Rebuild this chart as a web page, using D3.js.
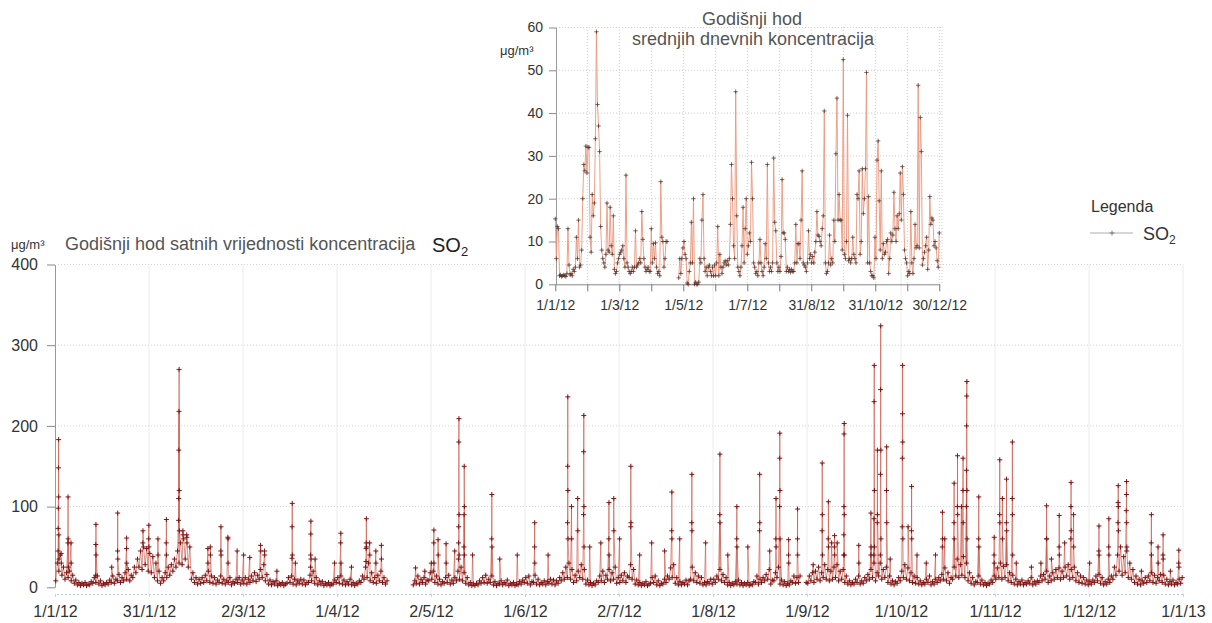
<!DOCTYPE html>
<html>
<head>
<meta charset="utf-8">
<script src="https://cdn.jsdelivr.net/npm/d3@7"></script>
<style>
body { margin: 0; background: #fff; }
text { font-family: "Liberation Sans", Arial, sans-serif; }
</style>
</head>
<body>
<svg id="chart" width="1212" height="623"></svg>
<script>
// hourly SO2 background band, one value every 12 hours (null = no data)
var baseJan = [8,30, 20,40, 15,25, 10,18, 12,20, 8,15, 5,9, 3,6, 2,5, 3,6, 2,4, 3,7, 5,12, 6,14, 4,8, 2,5, 3,6, 4,9, 6,14, 5,10, 8,16, 6,12, 8,18, 10,22, 8,15, 12,25, 18,35, 25,45, 22,50, 28,48, 20,42];
var baseFeb = [18,38, 12,30, 8,20, 5,12, 8,18, 12,25, 15,28, 20,35, 25,45, 30,55, 28,60, 35,65, 25,50, 10,18, 6,12, 4,10, 5,12, 6,15, 8,20, 6,14, 5,12, 4,9, 6,14, 5,10, 4,8, 6,12, 3,7, 5,10, 6,12];
var baseMar = [4,9, 5,12, 4,10, 6,14, 8,18, 7,15, 10,22, 12,28, 8,16, 4,9, 3,7, 4,8, 2,5, 3,6, 2,4, 5,12, 6,14, 4,10, 3,8, 5,10, 4,9, 3,6, 6,15, 8,20, 5,12, 3,8, 4,7, 2,5, 3,6, 2,4, 4,9];
var baseApr = [6,12, 5,14, 4,9, 3,7, 4,10, 3,6, 2,5, 4,8, 6,14, 10,25, 12,30, 8,18, 6,12, 5,15, 8,20, 6,12, 4,8,
  null,null, null,null, null,null, null,null, null,null, null,null, null,null, null,null,
  3,8, 5,14, 4,10, 6,12, 4,9];
var baseMay = [8,18, 10,20, 6,14, 4,10, 3,7, 5,12, 6,15, 4,9, 5,12, 8,20, 10,25, 8,18, 5,12, 3,6, 2,4, 2,5, 3,8, 5,12, 6,15, 5,10, 6,14, 3,7, 2,5, 4,8, 3,6, 4,9, 2,5, 3,6, 2,4, 3,7, 4,9];
var baseJun = [6,12, 5,14, 3,7, 6,15, 4,10, 3,6, 4,8, 3,7, 5,10, 4,9, 3,8, 5,12, 8,18, 10,25, 12,30, 10,22, 6,15, 8,20, 12,28, 10,22, 4,9, 3,6, 2,5, 3,8, 6,14, 8,20, 6,15, 10,22, 8,18, 10,25];
var baseJul = [5,12, 6,15, 8,18, 6,14, 12,28, 10,22, 4,9, 3,6, 2,5, 3,7, 2,4, 5,12, 6,14, 3,8, 2,5, 4,10, 6,14, 10,24, 12,28, 5,12, 3,7, 3,6, 4,9, 3,8, 10,25, 8,18, 6,14, 5,12, 3,6, 3,7, 5,10];
var baseAug = [4,10, 6,14, 10,22, 8,16, 6,12, 3,6, 2,5, 3,7, 4,9, 3,6, 2,5, 3,6, 2,4, 3,7, 6,14, 4,10, 6,12, 8,16, 10,22, 4,9, 8,18, 12,25, 4,9, 3,7, 2,5, 3,8, 6,14, 5,12, 6,14, null,null, null,6];
var baseSep = [5,14, 8,18, 6,20, 10,25, 8,18, 12,28, 10,22, 8,20, 10,25, 12,28, 8,20, 10,22, 6,14, 4,8, 3,6, 4,10, 6,14, 4,8, 5,12, 8,16, 10,22, 12,30, 8,18, 14,30, 10,22, 12,25, 6,14, 4,8, 3,7, 5,12];
var baseOct = [8,20, 12,28, 10,24, 8,18, 6,14, 5,12, 4,8, 3,6, 4,10, 6,14, 3,7, 4,10, 6,12, 8,16, 10,24, 8,18, 5,12, 10,25, 14,35, 12,28, 15,38, 12,30, 8,18, 5,12, 3,7, 6,14, 4,9, 3,6, 2,5, 4,9, 6,14];
var baseNov = [10,24, 12,30, 10,26, 12,28, 8,18, 6,15, 4,10, 3,7, 4,9, 3,6, 4,8, 5,12, 3,7, 4,8, 6,14, 8,16, 10,20, 6,14, 8,18, 10,22, 12,24, 10,20, 12,25, 14,28, 10,22, 12,25, 8,18, 6,14, 5,12, 4,9];
var baseDec = [3,7, 4,9, 6,14, 8,16, 5,12, 3,7, 4,10, 6,14, 10,25, 15,40, 20,50, 15,38, 18,45, 12,30, 10,22, 6,14, 4,10, 3,8, 5,12, 6,14, 8,18, 6,15, 5,12, 8,16, 6,15, 4,10, 3,7, 4,9, 3,6, 4,10, 5,12];

// hourly peaks: [start day of year, consecutive hourly values]
var hourlyPeaks = [
  [1.0, [45, 73, 98, 148, 183, 112, 65, 35]], [2.0, [42, 30]], [4.2, [55, 112, 60, 25]], [5.2, [55, 30]],
  [13.2, [15, 53, 78, 40]], [18.4, [25]], [20.3, [45, 92, 35]], [23.2, [48, 61, 30]],
  [28.5, [55, 70]], [30.4, [60, 77, 50]], [33.4, [60, 40]], [36.1, [55, 84, 40]],
  [40.1, [83, 110, 170, 218, 270, 120, 70]], [41.5, [70, 65]], [42.8, [62, 55]],
  [49.6, [48, 30]], [50.4, [50, 40]], [53.8, [45, 75, 40]], [56.1, [62, 60, 30]],
  [59.1, [45]], [61.2, [40]], [63.2, [37]], [66.7, [52, 45]], [68.0, [45, 40]], [72.0, [20]],
  [76.9, [36, 75, 104, 40]], [78.0, [30]], [82.9, [25, 40, 66, 82, 35]], [84.4, [35]],
  [90.7, [30]], [92.7, [55, 67, 30]], [96.2, [25]], [100.9, [32, 48, 55, 85, 50]],
  [102.1, [55, 40]], [104.1, [45, 30]], [105.9, [52, 35]],
  [117.0, [24]], [120.0, [20]], [122.1, [30]], [122.9, [55, 71, 30]], [124.3, [59, 40]],
  [126.9, [54, 30]], [129.7, [45]], [130.9, [35, 55, 75, 180, 209, 90, 40]],
  [132.7, [50, 90, 150, 100, 40]], [135.5, [40]], [141.7, [60, 115, 50]], [144.3, [35]],
  [150.0, [40]], [155.6, [50, 80, 30]], [160.0, [40]], [166.3, [80, 150, 236, 120, 60]],
  [167.6, [100, 60]], [169.6, [110, 70]], [171.5, [90, 168, 213, 100, 50]], [173.5, [50]],
  [177.1, [55]], [179.7, [60, 105, 40]], [181.3, [110, 70]], [183.2, [60]],
  [186.8, [75, 150, 80]], [189.7, [40]], [193.6, [55]], [197.8, [45]],
  [200.1, [70, 118, 60]], [202.7, [60]], [206.6, [80, 140, 70]], [211.1, [55]],
  [215.7, [90, 165, 80]], [218.3, [40]], [221.2, [60, 100, 50]], [224.8, [50]],
  [228.6, [70, 140, 80]], [231.9, [45]], [233.9, [60, 110, 50]],
  [235.1, [100, 160, 191, 120, 60]], [238.0, [40, 59, 30]], [240.9, [60, 97, 40]],
  [246.0, [28]], [248.9, [70, 154, 90, 40]], [250.9, [60, 106, 50]], [252.0, [55]],
  [252.9, [50, 64, 40]], [253.8, [55]], [255.9, [40, 65, 100, 190, 203, 90, 40]],
  [260.8, [52, 30]], [264.7, [40, 92, 50]], [265.7, [40, 85, 230, 275, 120, 50]],
  [266.8, [80, 170, 90]], [267.8, [40, 140, 245, 324, 170, 60]], [269.8, [120, 174, 80]],
  [271.0, [35]], [274.9, [75, 160, 215, 275, 180, 60]], [276.8, [75]],
  [277.9, [70, 125, 60]], [279.7, [40]], [282.7, [30]], [285.7, [40]],
  [287.9, [50, 93, 60]], [288.7, [60]], [291.7, [80, 129, 60]], [292.8, [100, 163, 90]],
  [294.1, [100]], [294.6, [120, 160, 80]], [295.7, [100, 145, 200, 237, 255, 120, 60]],
  [299.7, [60, 112, 50]], [304.7, [40, 62, 30]], [306.5, [90, 158, 80]], [307.4, [110, 60]],
  [308.7, [80, 134, 70]], [310.6, [110, 180, 90, 40]], [311.9, [30]], [316.8, [25]],
  [319.9, [30]], [321.7, [60, 101, 60]], [323.3, [35]], [325.8, [50, 89, 40]],
  [327.6, [55]], [329.6, [60, 100, 130, 70]], [330.5, [90, 50]], [335.7, [30]],
  [338.7, [45, 76, 40]], [341.9, [50, 85, 40]], [344.9, [80, 105, 126, 100, 70]],
  [347.6, [95, 115, 131, 80, 50]], [352.5, [20]], [355.7, [55, 90, 40]],
  [357.9, [50, 30]], [359.5, [40, 65, 35]], [361.9, [20]], [364.6, [30, 46, 25]]
];

// daily means for the inset: [day of year, value]
var dailyMean = [
  [0,15.3],[1,6],[2,13.5],[3,13],[4,2],[5,2.2],[6,1.8],[7,2],[8,2.2],[9,2],[10,1.8],[11,2.5],[12,13],[13,4.5],[14,2.2],[15,2.5],
  [16,2],[17,3.5],[18,3],[19,4],[20,11],[21,6],[22,15],[23,4],[24,4.5],[25,8],[26,20],[27,28],[28,26.5],[29,32.3],[30,26],
  [31,32],[32,32],[33,11],[34,7.5],[35,21],[36,16],[37,19],[38,34],[39,59],[40,42],[41,37],[42,31],[43,13.5],[44,8],[45,6],
  [46,5],[47,4],[48,7],[49,19],[50,8],[51,7.5],[52,18],[53,9],[54,7],[55,16],[56,3.5],[57,2.5],[58,3],[59,5],[60,6],[61,7],
  [62,7.5],[63,8],[64,9],[65,6],[66,4],[67,25.5],[68,5],[69,4],[70,3],[71,2.5],[72,3],[73,4],[74,3],[75,4],[76,12.5],[77,4],
  [78,4.5],[79,5],[80,6],[81,5],[82,17],[83,10.5],[84,6],[85,4],[86,3],[87,3.5],[88,4],[89,3],[90,3],[91,13],[92,5],[93,9.5],
  [94,6],[95,9.7],[96,4],[97,2.5],[98,3],[99,2],[100,24],[101,11],[102,10],[103,4],[104,6],[105,10],[106,10],[110,null],
  [117,1.5],[118,6],[119,2.5],[120,6],[121,8.5],[122,10],[123,7],[124,6],[125,0.3],[126,0],[127,3],[128,5],[129,14.5],[130,5],
  [131,20],[132,0],[133,0.5],[134,0],[135,0],[136,0.5],[137,6],[138,5],[139,15],[140,21],[141,6],[142,3],[143,4],[144,2],
  [145,4],[146,4.5],[147,3],[148,2],[149,4],[150,2],[151,4.5],[152,2],[153,5],[154,13.5],[155,2],[156,7],[157,4],[158,2.5],
  [159,4],[160,5],[161,5.5],[162,4.5],[163,5.5],[164,4.5],[165,6],[166,14],[167,28],[168,20],[169,9],[170,6],[171,45],[172,16],
  [173,4],[174,3],[175,2],[176,4],[177,9],[178,18],[179,5],[180,13],[181,20],[182,7],[183,9],[184,12],[185,10],[186,28.5],
  [187,20],[188,5],[189,4],[190,2.5],[191,3],[192,2],[193,5],[194,10.5],[195,5],[196,3],[197,2],[198,4],[199,9.5],[200,6],
  [201,28],[202,5],[203,3],[204,4],[205,3],[206,5],[207,29.5],[208,14.5],[209,12.5],[210,5],[211,3],[212,4],[213,3],[214,6.5],
  [215,24.5],[216,12],[217,12],[218,10.5],[219,3],[220,4],[221,3],[222,3.5],[223,2.8],[224,3.5],[225,3],[226,3],[227,5],
  [228,14],[229,5],[230,9.5],[231,9.5],[232,6],[233,15],[234,26.5],[235,5],[236,4.5],[237,4],[238,3],[239,5],[240,12.5],
  [241,6],[242,7],[243,5],[244,6.5],[245,5],[246,7.5],[247,10],[248,17],[249,11.5],[250,11.2],[251,10],[252,9],[253,13],
  [254,16],[255,40.5],[256,5],[257,2.5],[258,3],[259,5],[260,11.5],[261,4.5],[262,6],[263,5],[264,15],[265,10],[266,30.5],
  [267,43.5],[268,15],[269,21],[270,15],[271,15],[272,8],[273,52.5],[274,7],[275,6],[276,10],[277,39.5],[278,5.5],[279,6],
  [280,5],[281,6],[282,11],[283,7],[284,6],[285,5],[286,21],[287,20],[288,26.5],[289,7],[290,10],[291,27],[292,16.5],[293,20],
  [294,27],[295,49.5],[296,5],[297,20.5],[298,5],[299,3],[300,2],[301,2],[302,1.5],[303,11],[304,6],[305,29],[306,33.5],
  [307,19.5],[308,8],[309,26.5],[310,6],[311,9.5],[312,7],[313,7.5],[314,10],[315,10.5],[316,2.5],[317,6],[318,12],[319,10],
  [320,11.5],[321,21.5],[322,13],[323,10],[324,16],[325,13],[326,16.5],[327,26],[328,15],[329,27.5],[330,21],[331,8],[332,6],
  [333,5],[334,2],[335,3],[336,2.5],[337,17],[338,5],[339,2.5],[340,6],[341,14],[342,8.5],[343,9],[344,46.5],[345,8.5],
  [346,39],[347,31],[348,4.5],[349,6],[350,7.5],[351,9],[352,11],[353,3.5],[354,8],[355,20.5],[356,14],[357,15.5],[358,15],
  [359,9],[360,10],[361,8.5],[362,5.5],[363,4],[364,12]
];

// axis ticks
var mainTickDates = ["2012-01-01 00:00","2012-01-31 12:00","2012-03-02 00:00","2012-04-01 12:00","2012-05-02 00:00",
  "2012-06-01 12:00","2012-07-02 00:00","2012-08-01 12:00","2012-09-01 00:00","2012-10-01 12:00","2012-11-01 00:00",
  "2012-12-01 12:00","2013-01-01 00:00"];
var mainTickLabels = ["1/1/12","31/1/12","2/3/12","1/4/12","2/5/12","1/6/12","2/7/12","1/8/12","1/9/12","1/10/12","1/11/12","1/12/12","1/1/13"];
var mainYTicks = [0, 100, 200, 300, 400];

var insetTickDates = ["2012-01-01 00:00","2012-01-31 08:00","2012-03-01 16:00","2012-04-01 00:00","2012-05-01 08:00",
  "2012-05-31 16:00","2012-07-01 00:00","2012-07-31 08:00","2012-08-30 16:00","2012-09-30 00:00","2012-10-30 08:00",
  "2012-11-29 16:00","2012-12-30 00:00"];
var insetTickLabels = ["1/1/12","","1/3/12","","1/5/12","","1/7/12","","31/8/12","","31/10/12","","30/12/12"];
var insetYTicks = [0, 10, 20, 30, 40, 50, 60];

var parseT = d3.utcParse("%Y-%m-%d %H:%M");
var t0 = Date.UTC(2012, 0, 1);
function dayToDate(d) { return new Date(t0 + d * 864e5); }

var svg = d3.select("#chart");
var plus = "M-2.5,0H2.5M0,-2.5V2.5";

// ---------- main chart ----------
var x = d3.scaleUtc()
    .domain([parseT("2012-01-01 00:00"), parseT("2013-01-01 00:00")])
    .range([55, 1183]);
var y = d3.scaleLinear().domain([0, 400]).range([587.3, 264.5]);

// build the hourly series from the band and the peaks
var hourly = [];
var base = [].concat(baseJan, baseFeb, baseMar, baseApr, baseMay, baseJun, baseJul, baseAug, baseSep, baseOct, baseNov, baseDec);
base.forEach(function(v, i) {
    hourly.push({ t: dayToDate(i / 2 + 0.25), v: v });
});
hourlyPeaks.forEach(function(p) {
    p[1].forEach(function(v, i) {
        hourly.push({ t: dayToDate(p[0] + i / 24), v: v });
    });
});
hourly.sort(function(a, b) { return a.t - b.t; });

// grid
var mainTicks = mainTickDates.map(parseT);
svg.append("g").selectAll("line")
    .data(mainTicks.slice(1))
    .enter().append("line")
    .attr("x1", function(d) { return x(d); })
    .attr("x2", function(d) { return x(d); })
    .attr("y1", 264).attr("y2", 594)
    .attr("stroke", "#ececec").attr("stroke-width", 1);
svg.append("g").selectAll("line")
    .data(mainYTicks.slice(1))
    .enter().append("line")
    .attr("x1", 58).attr("x2", 1183)
    .attr("y1", function(d) { return y(d); })
    .attr("y2", function(d) { return y(d); })
    .attr("stroke", "#d4d4d4").attr("stroke-dasharray", "1,2");

// x axis
var xAxis = svg.append("g")
    .attr("transform", "translate(0,594)")
    .call(d3.axisBottom(x).tickValues(mainTicks)
        .tickFormat(function(d, i) { return mainTickLabels[i]; })
        .tickSize(3).tickPadding(9));
xAxis.select(".domain").attr("stroke", "#b8c4cc").attr("stroke-dasharray", "2,2");
xAxis.selectAll(".tick line").attr("stroke", "#ccd4da");
xAxis.selectAll("text").attr("font-size", 16).attr("fill", "#333")
    .style("font-family", "'Liberation Sans', Arial, sans-serif");

// y axis
var yAxis = svg.append("g")
    .attr("transform", "translate(55,0)")
    .call(d3.axisLeft(y).tickValues(mainYTicks).tickSize(8).tickPadding(9).tickSizeOuter(0));
yAxis.select(".domain").attr("stroke", "#999");
yAxis.selectAll(".tick line").attr("stroke", "#888");
yAxis.selectAll("text").attr("font-size", 16).attr("fill", "#333")
    .style("font-family", "'Liberation Sans', Arial, sans-serif");

// series
var mainLine = d3.line()
    .defined(function(d) { return d.v !== null; })
    .x(function(d) { return x(d.t); })
    .y(function(d) { return y(d.v); });
svg.append("path")
    .datum(hourly)
    .attr("fill", "none")
    .attr("stroke", "#c44a3a")
    .attr("stroke-opacity", 0.75)
    .attr("stroke-width", 0.8)
    .attr("d", mainLine);
svg.append("g").selectAll("path")
    .data(hourly.filter(function(d) { return d.v !== null; }))
    .enter().append("path")
    .attr("d", plus)
    .attr("transform", function(d) { return "translate(" + x(d.t) + "," + y(d.v) + ")"; })
    .attr("stroke", "#7e1212")
    .attr("stroke-width", 1);

// titles
svg.append("text").attr("x", 11).attr("y", 249).attr("font-size", 13).attr("fill", "#333").text("μg/m³");
svg.append("text").attr("x", 65).attr("y", 250).attr("font-size", 18).attr("fill", "#555")
    .text("Godišnji hod satnih vrijednosti koncentracija");
var so = svg.append("text").attr("x", 432).attr("y", 252).attr("font-size", 20).attr("fill", "#222").text("SO");
so.append("tspan").attr("dy", 4).attr("font-size", 13).text("2");

// ---------- inset ----------
var xi = d3.scaleUtc()
    .domain([parseT("2012-01-01 00:00"), parseT("2012-12-30 00:00")])
    .range([555.3, 939.3]);
var yi = d3.scaleLinear().domain([0, 60]).range([284.3, 27.5]);
var insetTicks = insetTickDates.map(parseT);

svg.append("g").selectAll("line")
    .data(insetTicks.slice(1))
    .enter().append("line")
    .attr("x1", function(d) { return xi(d); })
    .attr("x2", function(d) { return xi(d); })
    .attr("y1", 27).attr("y2", 284)
    .attr("stroke", "#cfcfcf").attr("stroke-dasharray", "1,2");
svg.append("line").attr("x1", 942).attr("x2", 942).attr("y1", 27).attr("y2", 284)
    .attr("stroke", "#cfcfcf").attr("stroke-dasharray", "1,2");
svg.append("g").selectAll("line")
    .data(insetYTicks.slice(1))
    .enter().append("line")
    .attr("x1", 556).attr("x2", 942)
    .attr("y1", function(d) { return yi(d); })
    .attr("y2", function(d) { return yi(d); })
    .attr("stroke", "#cfcfcf").attr("stroke-dasharray", "1,2");

var xiAxis = svg.append("g")
    .attr("transform", "translate(0,284.3)")
    .call(d3.axisBottom(xi).tickValues(insetTicks)
        .tickFormat(function(d, i) { return insetTickLabels[i]; })
        .tickSize(7).tickPadding(9).tickSizeOuter(0));
xiAxis.select(".domain").attr("stroke", "#888");
xiAxis.selectAll(".tick line").attr("stroke", "#777");
xiAxis.selectAll("text").attr("font-size", 14).attr("fill", "#333")
    .style("font-family", "'Liberation Sans', Arial, sans-serif");

var yiAxis = svg.append("g")
    .attr("transform", "translate(556,0)")
    .call(d3.axisLeft(yi).tickValues(insetYTicks).tickSize(7).tickPadding(6).tickSizeOuter(0));
yiAxis.select(".domain").attr("stroke", "#999");
yiAxis.selectAll(".tick line").attr("stroke", "#888");
yiAxis.selectAll("text").attr("font-size", 14).attr("fill", "#333")
    .style("font-family", "'Liberation Sans', Arial, sans-serif");

var insetLine = d3.line()
    .defined(function(d) { return d[1] !== null; })
    .x(function(d) { return xi(dayToDate(d[0])); })
    .y(function(d) { return yi(d[1]); });
svg.append("path")
    .datum(dailyMean)
    .attr("fill", "none")
    .attr("stroke", "#e9967c")
    .attr("stroke-width", 0.9)
    .attr("d", insetLine);
svg.append("g").selectAll("path")
    .data(dailyMean.filter(function(d) { return d[1] !== null; }))
    .enter().append("path")
    .attr("d", "M-2.2,0H2.2M0,-2.2V2.2")
    .attr("transform", function(d) { return "translate(" + xi(dayToDate(d[0])) + "," + yi(d[1]) + ")"; })
    .attr("stroke", "#4a2a22")
    .attr("stroke-width", 0.7);

svg.append("text").attr("x", 752).attr("y", 25).attr("text-anchor", "middle")
    .attr("font-size", 18).attr("fill", "#555").text("Godišnji hod");
svg.append("text").attr("x", 753).attr("y", 45).attr("text-anchor", "middle")
    .attr("font-size", 18).attr("fill", "#555").text("srednjih dnevnih koncentracija");
svg.append("text").attr("x", 500).attr("y", 55).attr("font-size", 13).attr("fill", "#333").text("μg/m³");

// ---------- legend ----------
svg.append("text").attr("x", 1091).attr("y", 212).attr("font-size", 16).attr("fill", "#333").text("Legenda");
svg.append("line").attr("x1", 1090).attr("x2", 1133).attr("y1", 233).attr("y2", 233)
    .attr("stroke", "#999").attr("stroke-width", 0.8);
svg.append("path").attr("d", plus).attr("transform", "translate(1112,233)")
    .attr("stroke", "#666").attr("stroke-width", 0.8);
var lg = svg.append("text").attr("x", 1143).attr("y", 240).attr("font-size", 18).attr("fill", "#333").text("SO");
lg.append("tspan").attr("dy", 4).attr("font-size", 12).text("2");
</script>
</body>
</html>
